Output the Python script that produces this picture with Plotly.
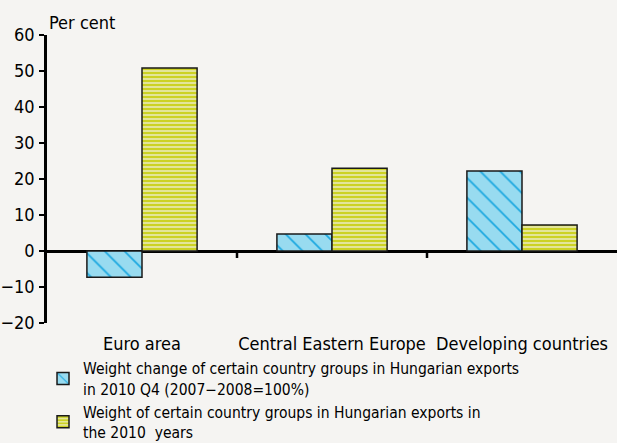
import plotly.graph_objects as go

categories = ["Euro area", "Central Eastern Europe", "Developing countries"]
weight_change = [-7.3, 4.7, 22.2]
weight_2010 = [50.8, 23.0, 7.2]
series_names = [
    "Weight change of certain country groups in Hungarian exports<br>in 2010 Q4 (2007\u22122008=100%)",
    "Weight of certain country groups in Hungarian exports in<br>the 2010  years",
]
y_ticks = [-20, -10, 0, 10, 20, 30, 40, 50, 60]
y_ticktext = ["\u221220", "\u221210", "0", "10", "20", "30", "40", "50", "60"]
boundaries = [0.5, 1.5]

FONT = "DejaVu Sans Condensed, DejaVu Sans"
BG = "#f5f4f2"

fig = go.Figure()
fig.add_trace(go.Bar(
    x=categories, y=weight_change, name=series_names[0],
    marker=dict(color="#98dbf0", line=dict(color="#1a1a1a", width=1.5),
                pattern=dict(shape="\\", fgcolor="#1aa7e0", bgcolor="#98dbf0",
                             size=14, solidity=0.12, fillmode="replace")),
))
fig.add_trace(go.Bar(
    x=categories, y=weight_2010, name=series_names[1],
    marker=dict(color="#e6e8a6", line=dict(color="#1a1a1a", width=1.5),
                pattern=dict(shape="-", fgcolor="#ccd224", bgcolor="#e6e8a6",
                             size=4, solidity=0.55, fillmode="replace")),
))

# category-boundary tick marks on the zero line (axis decoration)
for b in boundaries:
    fig.add_shape(type="line", xref="x", yref="y", x0=b, x1=b,
                  ysizemode="pixel", yanchor=0, y0=0, y1=-7,
                  line=dict(color="black", width=2.5), layer="above")

fig.update_layout(
    width=617, height=443,
    paper_bgcolor=BG, plot_bgcolor=BG,
    margin=dict(l=47, r=0, t=35, b=120, autoexpand=False),
    barmode="group", bargap=0.42, bargroupgap=0,
    font=dict(family=FONT, size=18, color="black"),
    showlegend=True,
    legend=dict(x=-0.007, y=-0.1, xanchor="left", yanchor="top",
                font=dict(size=15.5), tracegroupgap=0, bgcolor="rgba(0,0,0,0)"),
    xaxis=dict(showline=False, showgrid=False, zeroline=False, ticks="",
               ticklabelstandoff=8, tickfont=dict(size=18)),
    yaxis=dict(range=[-20, 60], tickvals=y_ticks, ticktext=y_ticktext,
               showline=True, linecolor="black", linewidth=2.5,
               ticks="outside", ticklen=5, tickwidth=2, tickcolor="black",
               showgrid=False, zeroline=True, zerolinecolor="black", zerolinewidth=2.5,
               tickfont=dict(size=18), ticklabelstandoff=1),
    annotations=[dict(text="Per cent", xref="paper", yref="paper", x=0, y=1,
                      xanchor="left", yanchor="bottom", showarrow=False,
                      font=dict(size=18), yshift=0)],
)

fig.write_html("out.html", config={"displayModeBar": False},
               post_script="document.body.style.margin='0';")
